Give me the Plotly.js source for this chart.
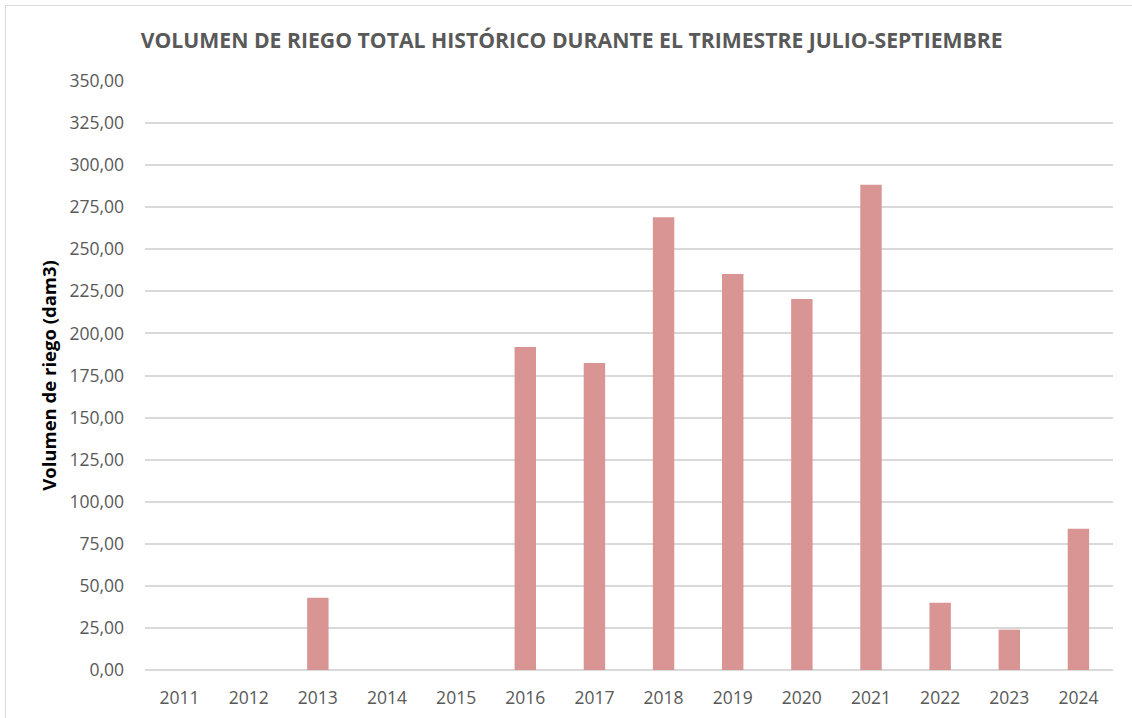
<!DOCTYPE html>
<html><head><meta charset="utf-8">
<script src="https://cdn.plot.ly/plotly-3.0.1.min.js"></script>
<style>
html,body{margin:0;padding:0;background:#fff;}
#frame{position:absolute;left:5px;top:5px;width:1140px;height:730px;border:1.5px solid #d9d9d9;pointer-events:none;z-index:5;}
#chart{position:absolute;left:0;top:0;width:1132px;height:718px;}
</style></head>
<body>
<div id="chart"></div>
<div id="frame"></div>
<script>
const years = ['2011','2012','2013','2014','2015','2016','2017','2018','2019','2020','2021','2022','2023','2024'];
const volume = [0, 0, 43, 0, 0, 192, 182.5, 269, 235.3, 220.5, 288.3, 40, 24, 84];
const yTicks = [0,25,50,75,100,125,150,175,200,225,250,275,300,325,350];

Plotly.newPlot('chart', [{
  type: 'bar', x: years, y: volume,
  marker: {color: '#d99594'},
  hoverinfo: 'x+y'
}], {
  width: 1132, height: 718,
  margin: {l: 145, r: 19, t: 81, b: 48},
  paper_bgcolor: '#fff', plot_bgcolor: '#fff',
  separators: ',.',
  bargap: 0.69,
  title: {text: 'VOLUMEN DE RIEGO TOTAL HISTÓRICO DURANTE EL TRIMESTRE JULIO-SEPTIEMBRE',
    font: {family: 'Open Sans, Liberation Sans, sans-serif', size: 21.2, color: '#595959', weight: 'bold'},
    x: 0.505, xanchor: 'center', y: 0.944, yanchor: 'middle'},
  font: {family: 'Open Sans, Liberation Sans, sans-serif', size: 17.5, color: '#595959'},
  xaxis: {type: 'category', showgrid: false, zeroline: false, showline: false, ticks: '', tickfont: {size: 17.5, color: '#595959'}, ticklabelstandoff: 15},
  yaxis: {range: [0, 350], tickvals: yTicks, tickformat: '.2f', showgrid: true, gridcolor: '#d9d9d9', gridwidth: 1.5,
    zeroline: true, zerolinecolor: '#d9d9d9', zerolinewidth: 1.5, showline: false, ticks: '', ticklabelstandoff: 20,
    tickfont: {size: 17.5, color: '#595959'},
    title: {text: 'Volumen de riego (dam3)', font: {size: 18.5, color: '#000', weight: 'bold'}, standoff: 7}},
  showlegend: false
}, {displayModeBar: false});
</script>
</body></html>
